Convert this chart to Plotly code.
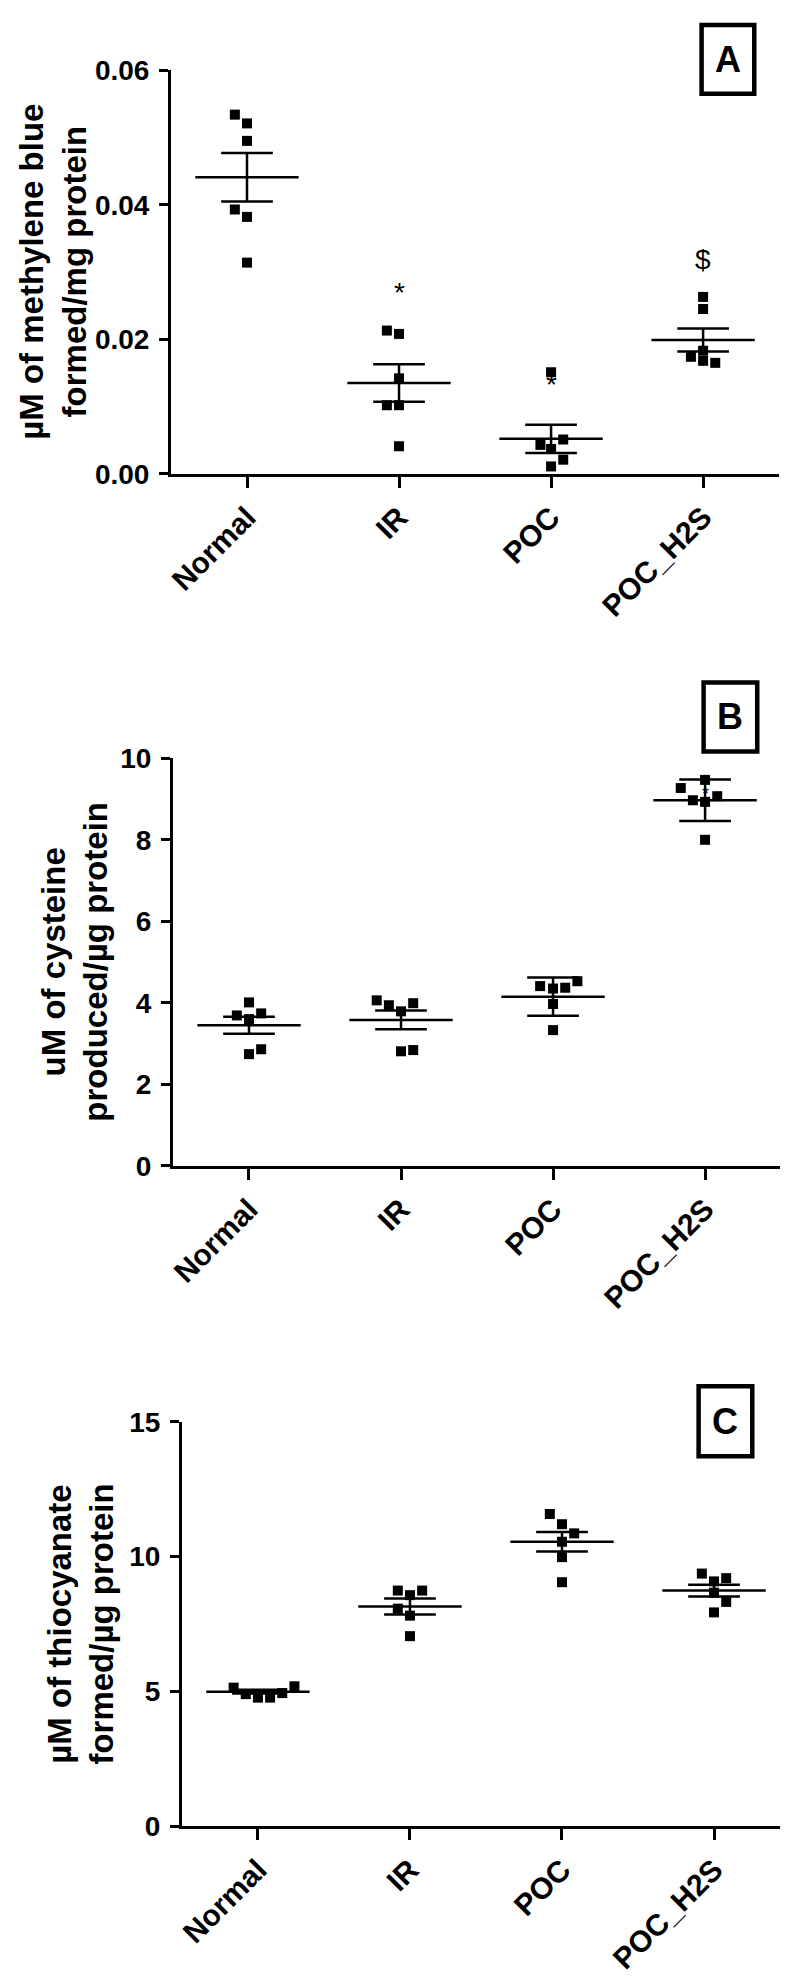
import plotly.graph_objects as go

W, H = 788, 1978
categories = ["Normal", "IR", "POC", "POC_H2S"]

# ---------------- Panel A : methylene blue ----------------
a_normal = [0.0534, 0.0521, 0.0495, 0.0393, 0.0382, 0.0314]
a_ir = [0.0213, 0.0208, 0.0142, 0.0102, 0.0102, 0.0041]
a_poc = [0.0151, 0.0051, 0.0043, 0.0037, 0.0021, 0.0011]
a_poc_h2s = [0.0263, 0.0245, 0.0183, 0.0174, 0.0168, 0.0165]
a_means = [0.0441, 0.0135, 0.0052, 0.0199]
a_errs = [0.0036, 0.0028, 0.0021, 0.0017]
a_ticks = [0, 0.02, 0.04, 0.06]

# ---------------- Panel B : cysteine ----------------
b_normal = [4.01, 3.69, 3.74, 3.60, 2.86, 2.74]
b_ir = [4.06, 3.94, 3.99, 3.79, 2.84, 2.81]
b_poc = [4.41, 4.35, 4.37, 4.53, 3.97, 3.33]
b_poc_h2s = [9.47, 9.27, 9.07, 8.97, 8.93, 8.00]
b_means = [3.45, 3.58, 4.15, 8.97]
b_errs = [0.21, 0.23, 0.47, 0.51]
b_ticks = [0, 2, 4, 6, 8, 10]

# ---------------- Panel C : thiocyanate ----------------
c_normal = [5.14, 4.90, 4.77, 4.77, 4.94, 5.19]
c_ir = [8.74, 8.74, 8.57, 8.07, 7.81, 7.05]
c_poc = [11.58, 11.20, 10.86, 10.55, 9.98, 9.05]
c_poc_h2s = [9.37, 9.20, 9.08, 8.66, 8.32, 7.93]
c_means = [4.99, 8.15, 10.55, 8.74]
c_errs = [0.07, 0.30, 0.36, 0.22]
c_ticks = [0, 5, 10, 15]

# side-by-side placement of overlapping dots (category units)
a_spread = [[-0.08, 0, 0, -0.08, 0, 0], [-0.08, 0, 0, -0.08, 0, 0],
            [0, 0.08, -0.07, 0, 0.08, 0], [0, 0, 0, -0.08, 0, 0.08]]
b_spread = [[0, -0.08, 0.08, 0, 0.08, 0], [-0.16, -0.08, 0.08, 0, 0.08, 0],
            [-0.085, 0, 0.08, 0.16, 0, 0], [0, -0.16, 0.08, -0.08, 0, 0]]
c_spread = [[-0.16, -0.08, 0, 0.08, 0.16, 0.24], [-0.08, 0.08, 0, -0.08, 0, 0],
            [-0.08, 0, 0.08, 0, 0, 0], [-0.08, 0.08, 0, 0, 0.08, 0]]

FONT = "Liberation Sans, Arial, Helvetica, sans-serif"


def px(x):
    return x / W


def py(y):
    return 1 - y / H


panels = [
    dict(groups=[a_normal, a_ir, a_poc, a_poc_h2s], spread=a_spread, means=a_means, errs=a_errs,
         ticks=a_ticks, fmt=".2f", x0=159, x1=771, ytop=48, ybot=458,
         title="µM of methylene blue<br>formed/mg protein", tx=40, letter="A",
         box=(693, 2, 746, 72)),
    dict(groups=[b_normal, b_ir, b_poc, b_poc_h2s], spread=b_spread, means=b_means, errs=b_errs,
         ticks=b_ticks, fmt="d", x0=161, x1=773, ytop=747, ybot=1161,
         title="uM of cysteine<br>produced/µg protein", tx=62, letter="B",
         box=(695, 670, 749, 740)),
    dict(groups=[c_normal, c_ir, c_poc, c_poc_h2s], spread=c_spread, means=c_means, errs=c_errs,
         ticks=c_ticks, fmt="d", x0=170, x1=782, ytop=1421, ybot=1832,
         title="µM of thiocyanate<br>formed/µg protein", tx=68, letter="C",
         box=(690, 1385, 744, 1456)),
]

fig = go.Figure()
annotations = []
shapes = []
MEAN_HW = 0.34
ERR_HW = 0.17

for k, p in enumerate(panels, start=1):
    xa = "x" if k == 1 else f"x{k}"
    ya = "y" if k == 1 else f"y{k}"
    xs, ys = [], []
    for i, (vals, offs) in enumerate(zip(p["groups"], p["spread"])):
        for v, o in zip(vals, offs):
            xs.append(i + o)
            ys.append(v)
    fig.add_trace(go.Scatter(x=xs, y=ys, mode="markers", xaxis=xa, yaxis=ya,
                             marker=dict(symbol="square", size=10, color="black"),
                             showlegend=False, cliponaxis=False))
    lx, ly = [], []
    for i, (m, e) in enumerate(zip(p["means"], p["errs"])):
        lx += [i - MEAN_HW, i + MEAN_HW, None]
        ly += [m, m, None]
        lx += [i - ERR_HW, i + ERR_HW, None]
        ly += [m + e, m + e, None]
        lx += [i - ERR_HW, i + ERR_HW, None]
        ly += [m - e, m - e, None]
        lx += [i, i, None]
        ly += [m - e, m + e, None]
    fig.add_trace(go.Scatter(x=lx, y=ly, mode="lines", xaxis=xa, yaxis=ya,
                             line=dict(color="black", width=2.5),
                             showlegend=False, cliponaxis=False))

    lay_x = "xaxis" if k == 1 else f"xaxis{k}"
    lay_y = "yaxis" if k == 1 else f"yaxis{k}"
    fig.layout[lay_x] = dict(
        domain=[px(p["x0"]), px(p["x1"])], anchor=ya, range=[-0.5, 3.5],
        tickvals=[0, 1, 2, 3], ticktext=categories, tickangle=-45,
        showline=True, linecolor="black", linewidth=3, ticks="outside",
        ticklen=11, tickwidth=3, tickcolor="black", showgrid=False, zeroline=False,
        tickfont=dict(family=FONT, size=30, color="black", weight="bold"))
    fig.layout[lay_y] = dict(
        domain=[py(p["ybot"]), py(p["ytop"])], anchor=xa,
        range=[p["ticks"][0], p["ticks"][-1]], tickvals=p["ticks"], tickformat=p["fmt"],
        showline=True, linecolor="black", linewidth=3, ticks="outside",
        ticklen=9, tickwidth=3, tickcolor="black", showgrid=False, zeroline=False,
        ticklabelstandoff=4,
        tickfont=dict(family=FONT, size=28, color="black", weight="bold"))

    annotations.append(dict(
        text=p["title"], textangle=-90, xref="paper", yref="paper",
        x=px(p["tx"]), y=py((p["ytop"] + p["ybot"]) / 2), xanchor="center", yanchor="middle",
        showarrow=False, font=dict(family=FONT, size=33, color="black", weight="bold")))
    bx0, by0, bx1, by1 = p["box"]
    shapes.append(dict(type="rect", xref="paper", yref="paper",
                       x0=px(bx0), x1=px(bx1), y0=py(by1), y1=py(by0),
                       line=dict(color="black", width=4.5), fillcolor="white"))
    annotations.append(dict(
        text=p["letter"], xref="paper", yref="paper",
        x=px((bx0 + bx1) / 2), y=py((by0 + by1) / 2), xanchor="center", yanchor="middle",
        showarrow=False, font=dict(family=FONT, size=36, color="black", weight="bold")))

# significance marks
sig = [("x", "y", 1, 0.0280, "*", -7, 28), ("x", "y", 2, 0.0143, "*", -7, 28),
       ("x", "y", 3, 0.0319, "$", 0, 28), ("x4", "y4", 3, 9.25, "*", -5, 18)]
for xr, yr, xv, yv, t, sh, fs in sig:
    if xr == "x4":
        xr, yr = "x2", "y2"
    annotations.append(dict(text=t, xref=xr, yref=yr, x=xv, y=yv, yshift=sh,
                            xanchor="center", yanchor="middle", showarrow=False,
                            font=dict(family=FONT, size=fs, color="black")))

fig.update_layout(width=W, height=H, margin=dict(l=0, r=0, t=0, b=0),
                  plot_bgcolor="white", paper_bgcolor="white",
                  annotations=annotations, shapes=shapes)
fig.write_html("out.html")
